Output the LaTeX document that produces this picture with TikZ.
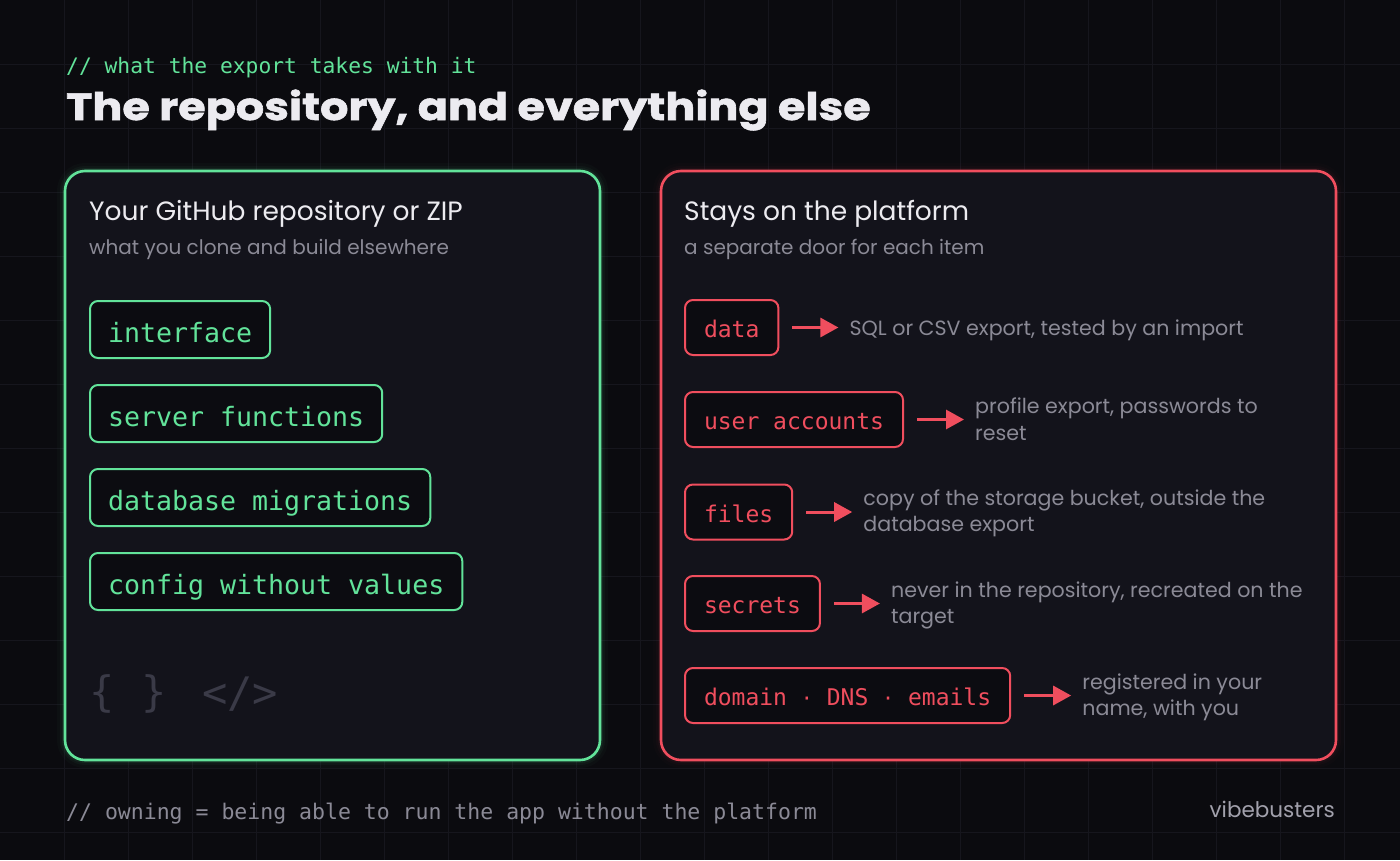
\documentclass[tikz,border=0pt]{standalone}
\usepackage{fontspec}
\setmainfont{Poppins}
\newfontfamily\monof{DejaVu Sans Mono}
\newfontfamily\titlef[BoldFeatures={FakeBold=1.6,FakeStretch=1.17}]{Poppins}
\usetikzlibrary{arrows.meta,calc}
\definecolor{bg}{HTML}{0B0B0F}
\definecolor{gridc}{HTML}{16161D}
\definecolor{boxfill}{HTML}{13131B}
\definecolor{chipfill}{HTML}{0C0C11}
\definecolor{grn}{HTML}{62E39A}
\definecolor{red}{HTML}{F04E5E}
\definecolor{wht}{HTML}{ECEBF0}
\definecolor{gry}{HTML}{8B8A96}
\definecolor{brandc}{HTML}{A2A1AC}
\definecolor{icon}{HTML}{3A3A47}
\begin{document}
\begin{tikzpicture}[x=1pt,y=-1pt,
  chipG/.style={draw=grn, fill=chipfill, line width=2pt, rounded corners=8pt,
    minimum height=57pt, inner xsep=18pt, inner ysep=0pt, text height=25pt,
    text depth=0pt, text=grn, font=\monof\fontsize{26.6}{32}\selectfont, anchor=west},
  chipR/.style={draw=red, fill=chipfill, line width=2pt, rounded corners=8pt,
    minimum height=55pt, inner xsep=19pt, inner ysep=0pt, text height=20pt,
    text depth=0pt, text=red, font=\monof\fontsize{23}{28}\selectfont, anchor=west},
  desc/.style={text=gry, font=\fontsize{20.6}{26.5}\selectfont, inner sep=0pt, anchor=base west},
  arr/.style={draw=red, line width=3pt, -{Triangle[length=18pt,width=19pt]},
    shorten <=13pt, shorten >=11pt},
  head/.style={text=wht, font=\fontsize{26.5}{30}\selectfont, inner sep=0pt, anchor=base west},
  sub/.style={text=gry, font=\fontsize{20}{24}\selectfont, inner sep=0pt, anchor=base west},
  ico/.style={text=icon, font=\monof\fontsize{42}{48}\selectfont, inner sep=0pt}
]
\fill[bg] (0,0) rectangle (1400,860);
\useasboundingbox (0,0) rectangle (1400,860);
% grid
\foreach \i in {1,...,21} \draw[gridc, line width=1pt] (64*\i,0) -- (64*\i,860);
\foreach \j in {1,...,13} \draw[gridc, line width=1pt] (0,64*\j) -- (1400,64*\j);

% header
\node[text=grn, font=\monof\fontsize{21.3}{26}\selectfont, inner sep=0pt, anchor=base west] (kicker) at (66,73) {// what the export takes with it};
\node[text=wht, font=\titlef\bfseries\fontsize{38}{44}\selectfont, inner sep=0pt, anchor=base west] (title) at (66,120) {The repository, and everything else};

% glows
\foreach \w/\o in {16/0.025, 10/0.04, 6/0.07} {
  \draw[grn, line width=\w pt, opacity=\o, rounded corners=20pt] (65,171) rectangle (600,760);
  \draw[red, line width=\w pt, opacity=\o*0.7, rounded corners=20pt] (661,171) rectangle (1336,760);
}
% boxes
\draw[grn, fill=boxfill, line width=2.6pt, rounded corners=20pt] (65,171) rectangle (600,760);
\draw[red, fill=boxfill, line width=2.6pt, rounded corners=20pt] (661,171) rectangle (1336,760);

% left box
\node[head] (lh) at (89,220) {Your GitHub repository or ZIP};
\node[sub] (ls) at (89,254) {what you clone and build elsewhere};
\node[chipG] (g1) at (89,329.5) {interface};
\node[chipG] (g2) at (89,413.5) {server functions};
\node[chipG] (g3) at (89,497.5) {database migrations};
\node[chipG] (g4) at (89,581.5) {config without values};
\node[ico] (i1) at (102,694) {\{};
\node[ico] (i2) at (154,694) {\}};
\node[ico] (i3) at (240,694) {</>};

% right box
\node[head] (rh) at (684,220) {Stays on the platform};
\node[sub] (rs) at (684,254) {a separate door for each item};

\node[chipR] (r1) at (684,327.5) {data};
\node[chipR] (r2) at (684,419.5) {user accounts};
\node[chipR] (r3) at (684,512) {files};
\node[chipR] (r4) at (684,603.5) {secrets};
\node[chipR] (r5) at (684,695.5) {domain {\fontsize{20}{24}\selectfont·} DNS {\fontsize{20}{24}\selectfont·} emails};

\node[desc] (d1) at ($(r1.east)+(70,7.5)$) {SQL or CSV export, tested by an import};
\node[desc] (d2) at ($(r2.east)+(71,-6)$) {profile export, passwords to};
\node[desc] (d2b) at ($(d2.base west)+(0,26.5)$) {reset};
\node[desc] (d3) at ($(r3.east)+(70,-7)$) {copy of the storage bucket, outside the};
\node[desc] (d3b) at ($(d3.base west)+(0,26.5)$) {database export};
\node[desc] (d4) at ($(r4.east)+(70,-6.5)$) {never in the repository, recreated on the};
\node[desc] (d4b) at ($(d4.base west)+(0,26.5)$) {target};
\node[desc] (d5) at ($(r5.east)+(71,-6.5)$) {registered in your};
\node[desc] (d5b) at ($(d5.base west)+(0,26.5)$) {name, with you};

\draw[arr] (r1.east) -- (r1.east -| d1.west);
\draw[arr] (r2.east) -- (r2.east -| d2.west);
\draw[arr] (r3.east) -- (r3.east -| d3.west);
\draw[arr] (r4.east) -- (r4.east -| d4.west);
\draw[arr] (r5.east) -- (r5.east -| d5.west);

% footer
\node[text=gry, font=\monof\fontsize{21.5}{26}\selectfont, inner sep=0pt, anchor=base west] (foot) at (66,819) {// owning = being able to run the app without the platform};
\node[text=brandc, font=\fontsize{21.5}{24}\selectfont, inner sep=0pt, anchor=base east] (brand) at (1335,817) {vibebusters};
\end{tikzpicture}
\end{document}
